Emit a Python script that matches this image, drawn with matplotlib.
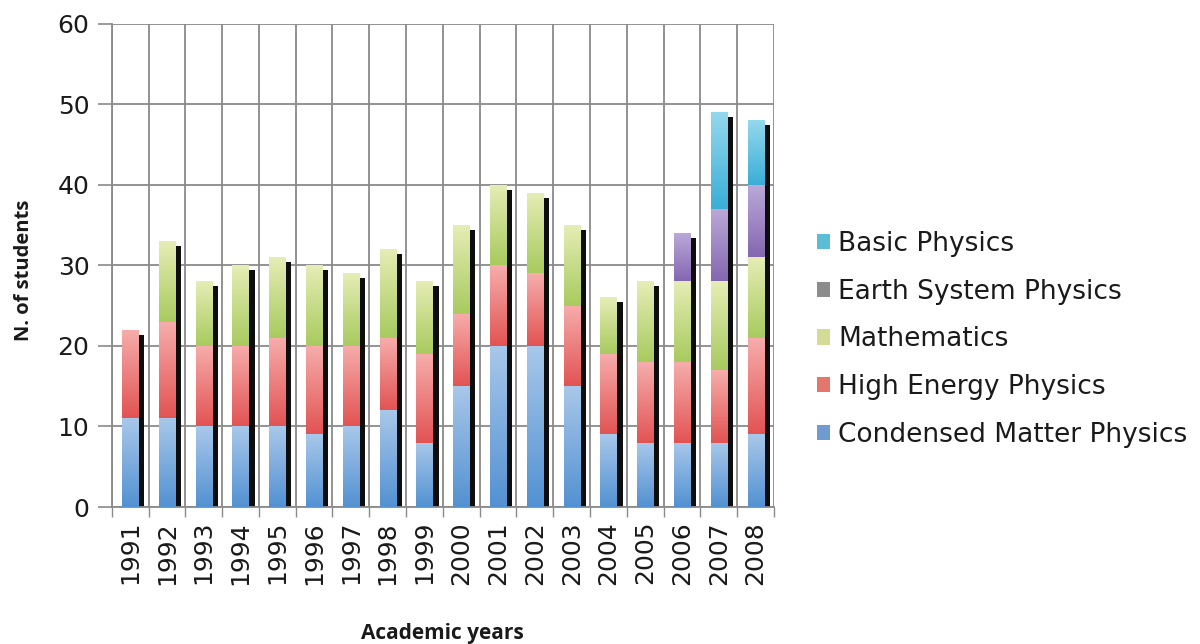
import numpy as np
import matplotlib
matplotlib.use("Agg")
import matplotlib.pyplot as plt
from matplotlib.colors import LinearSegmentedColormap
from matplotlib.patches import Patch

# Academic years and enrolled students per course
years = ["1991", "1992", "1993", "1994", "1995", "1996", "1997", "1998", "1999",
         "2000", "2001", "2002", "2003", "2004", "2005", "2006", "2007", "2008"]
condensed_matter = [11, 11, 10, 10, 10, 9, 10, 12, 8, 15, 20, 20, 15, 9, 8, 8, 8, 9]
high_energy = [11, 12, 10, 10, 11, 11, 10, 9, 11, 9, 10, 9, 10, 10, 10, 10, 9, 12]
mathematics = [0, 10, 8, 10, 10, 10, 9, 11, 9, 11, 10, 10, 10, 7, 10, 10, 11, 10]
earth_system = [0, 0, 0, 0, 0, 0, 0, 0, 0, 0, 0, 0, 0, 0, 0, 6, 9, 9]
basic_physics = [0, 0, 0, 0, 0, 0, 0, 0, 0, 0, 0, 0, 0, 0, 0, 0, 12, 8]

series_names = ["Condensed Matter Physics", "High Energy Physics", "Mathematics",
                "Earth System Physics", "Basic Physics"]
series_values = [condensed_matter, high_energy, mathematics, earth_system, basic_physics]

# (top, bottom) gradient colours for the bar segments
seg_colors = [("#a9c8ea", "#5291d2"),
              ("#f6aeac", "#e25353"),
              ("#e6edb6", "#a8ca5e"),
              ("#bcaad9", "#8467b0"),
              ("#94d8ee", "#3aaed6")]
# flat swatch colours for the legend
legend_colors = ["#6f9bd0", "#e3776b", "#d2dc96", "#8c8c8c", "#5bbcd6"]

grid_col = "#8a8a8a"
text_col = "#1a1a1a"

fig = plt.figure(figsize=(12, 6.44), dpi=100)
ax = fig.add_axes([0.0931, 0.2127, 0.645 - 0.0931, 0.9635 - 0.2127])

x = np.arange(len(years))
bar_w = 0.44
bottom = np.zeros(len(years))


def gradient_fill(patch, top_c, bot_c):
    h = patch.get_height()
    if h <= 0:
        return
    x0, y0, w = patch.get_x(), patch.get_y(), patch.get_width()
    cmap = LinearSegmentedColormap.from_list("seg", [bot_c, top_c], N=512)
    grad = np.linspace(0, 1, 512)[:, None]
    im = ax.imshow(grad, extent=(x0, x0 + w, y0, y0 + h), origin="lower",
                   cmap=cmap, aspect="auto", interpolation="antialiased",
                   zorder=3)
    im.set_clip_path(patch)


for vals, (top_c, bot_c) in zip(series_values, seg_colors):
    vals = np.array(vals, dtype=float)
    bars = ax.bar(x, vals, width=bar_w, bottom=bottom, color="none",
                  edgecolor="none", zorder=3)
    for p in bars.patches:
        gradient_fill(p, top_c, bot_c)
    bottom += vals

# dark shadow column beside each stack
totals = bottom
shadow_drop = 0.6
ax.bar(x + bar_w / 2 + 0.0825, totals - shadow_drop, width=0.165,
       color="#0d0d0d", edgecolor="none", zorder=2.5)

ax.set_xlim(-0.5, len(years) - 0.5)
ax.set_ylim(0, 60)
ax.set_yticks(np.arange(0, 61, 10))
ax.set_xticks(x)
ax.set_xticklabels(years, rotation=90, fontsize=18, color=text_col)
ax.tick_params(axis="y", labelsize=18, labelcolor=text_col, length=10,
               color=grid_col, width=1.2, pad=6)
ax.tick_params(axis="x", length=0, pad=10)

# category separators and tick marks at the boundaries
ax.set_xticks(np.arange(-0.5, len(years), 1), minor=True)
ax.tick_params(axis="x", which="minor", length=7, color=grid_col, width=1.0)
ax.grid(True, axis="x", which="minor", color=grid_col, linewidth=1.3, zorder=0)
ax.grid(True, axis="y", which="major", color=grid_col, linewidth=1.3, zorder=0)
ax.set_axisbelow(True)

for side in ["top", "right"]:
    ax.spines[side].set_visible(False)
for side in ["left", "bottom"]:
    ax.spines[side].set_color(grid_col)
    ax.spines[side].set_linewidth(1.3)

ax.set_ylabel("N. of students", fontsize=14.5, fontweight="bold",
              family="Open Sans", color=text_col)
ax.yaxis.set_label_coords(-0.117, 0.49)
ax.set_xlabel("Academic years", fontsize=15, fontweight="bold",
              family="Open Sans", color=text_col, va="center")
ax.xaxis.set_label_coords(0.5, -0.262)

handles = [Patch(facecolor=c, edgecolor="none") for c in legend_colors]
leg = fig.legend(handles[::-1], series_names[::-1], loc="center left",
                 bbox_to_anchor=(0.672, 0.473), frameon=False, fontsize=19,
                 handlelength=0.5, handleheight=0.5, handletextpad=0.3,
                 labelspacing=0.82, borderaxespad=0)
for t in leg.get_texts():
    t.set_color(text_col)

fig.savefig("out.png", dpi=100, facecolor="white")
